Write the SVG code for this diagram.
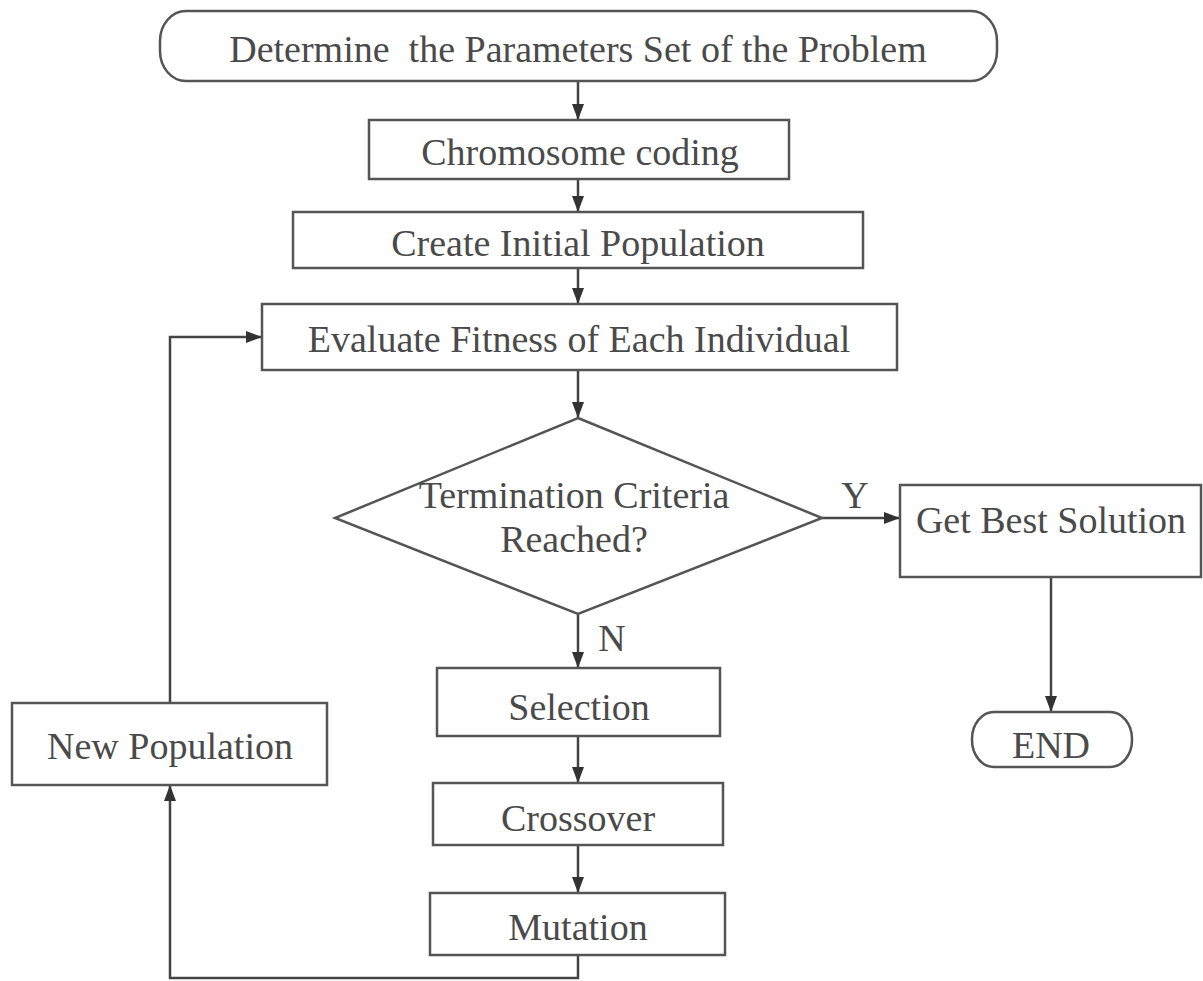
<svg xmlns="http://www.w3.org/2000/svg" width="1203" height="981" viewBox="0 0 1203 981">
<style>
.box{fill:#fff;stroke:#555;stroke-width:2.5}
.t{font-family:"Liberation Serif","Times New Roman",serif;font-size:38px;fill:#4a4a4a;text-anchor:middle;white-space:pre}
.c{fill:none;stroke:#444;stroke-width:2.5}
</style>
<defs>
<marker id="ar" viewBox="0 0 16 12" refX="16" refY="6" markerWidth="16" markerHeight="12" markerUnits="userSpaceOnUse" orient="auto">
<path d="M0,0 L16,6 L0,12 Z" fill="#333"/>
</marker>
</defs>
<rect width="1203" height="981" fill="#fff"/>
<g id="connectors">
<line class="c" x1="578" y1="81" x2="578" y2="120" marker-end="url(#ar)"/>
<line class="c" x1="578" y1="179" x2="578" y2="212" marker-end="url(#ar)"/>
<line class="c" x1="578" y1="268" x2="578" y2="304" marker-end="url(#ar)"/>
<line class="c" x1="578" y1="370" x2="578" y2="418" marker-end="url(#ar)"/>
<line class="c" x1="822" y1="518" x2="900" y2="518" marker-end="url(#ar)"/>
<line class="c" x1="1051" y1="577" x2="1051" y2="712" marker-end="url(#ar)"/>
<line class="c" x1="578" y1="614" x2="578" y2="668" marker-end="url(#ar)"/>
<line class="c" x1="578" y1="736" x2="578" y2="783" marker-end="url(#ar)"/>
<line class="c" x1="578" y1="845" x2="578" y2="893" marker-end="url(#ar)"/>
<polyline class="c" points="578,955 578,978 170,978 170,785" marker-end="url(#ar)"/>
<polyline class="c" points="170,703 170,337 262,337" marker-end="url(#ar)"/>
<text class="t" x="855" y="508">Y</text>
<text class="t" x="612" y="651">N</text>
</g>
<g id="start">
<rect class="box" x="160" y="11" width="837" height="70" rx="26" ry="30"/>
<text class="t" x="578" y="62" xml:space="preserve">Determine  the Parameters Set of the Problem</text>
</g>
<g id="chromosome">
<rect class="box" x="369" y="120" width="420" height="59"/>
<text class="t" x="580" y="165">Chromosome coding</text>
</g>
<g id="initial">
<rect class="box" x="293" y="212" width="570" height="56"/>
<text class="t" x="578" y="256">Create Initial Population</text>
</g>
<g id="evaluate">
<rect class="box" x="262" y="304" width="635" height="66"/>
<text class="t" x="579" y="352">Evaluate Fitness of Each Individual</text>
</g>
<g id="decision">
<polygon class="box" points="578,418 822,518 578,614 335,518"/>
<text class="t" x="574" y="508">Termination Criteria</text>
<text class="t" x="574" y="552">Reached?</text>
</g>
<g id="best">
<rect class="box" x="900" y="485" width="301" height="92"/>
<text class="t" x="1051" y="533">Get Best Solution</text>
</g>
<g id="end">
<rect class="box" x="972" y="712" width="160" height="55" rx="22" ry="27"/>
<text class="t" x="1051" y="758">END</text>
</g>
<g id="selection">
<rect class="box" x="437" y="668" width="283" height="68"/>
<text class="t" x="579" y="720">Selection</text>
</g>
<g id="crossover">
<rect class="box" x="433" y="783" width="290" height="62"/>
<text class="t" x="578" y="831">Crossover</text>
</g>
<g id="mutation">
<rect class="box" x="430" y="893" width="295" height="62"/>
<text class="t" x="578" y="940">Mutation</text>
</g>
<g id="newpop">
<rect class="box" x="12" y="703" width="315" height="82"/>
<text class="t" x="170" y="759">New Population</text>
</g>
</svg>
